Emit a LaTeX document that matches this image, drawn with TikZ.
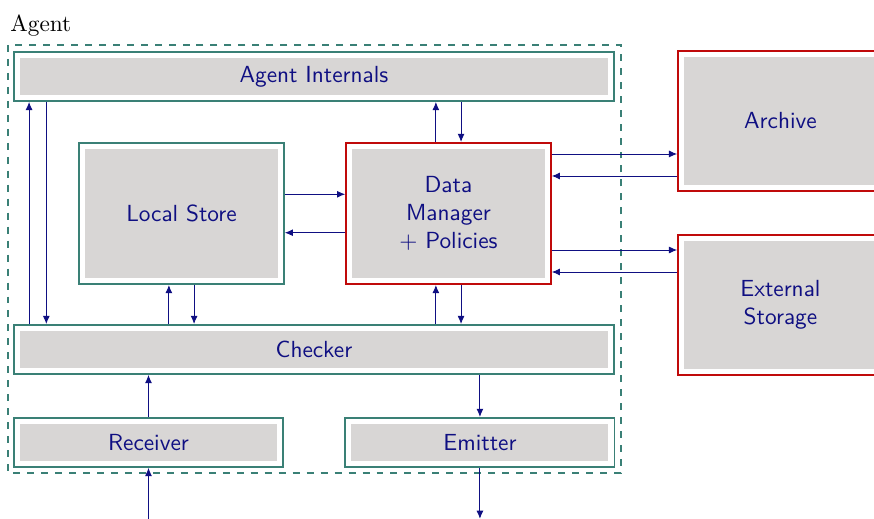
\documentclass[tikz,border=0pt]{standalone}
\usepackage{tikz}
\usetikzlibrary{arrows.meta}
\definecolor{tealink}{RGB}{58,128,118}
\definecolor{redink}{RGB}{192,10,10}
\definecolor{boxgray}{RGB}{216,214,213}
\definecolor{navyink}{RGB}{15,15,130}

\tikzset{
  unit/.style={draw=tealink, line width=0.8pt, fill=white, text=navyink,
    font=\sffamily, align=center, inner sep=0pt,
    path picture={\fill[boxgray]
      ([shift={(2.6pt,2.6pt)}]path picture bounding box.south west) rectangle
      ([shift={(-2.6pt,-2.6pt)}]path picture bounding box.north east);}},
  outside/.style={unit, draw=redink},
  flow/.style={draw=navyink, -{Latex[length=3.5pt,width=3pt]}},
}

\begin{document}
\begin{tikzpicture}
  \useasboundingbox (0,0) rectangle (13.19,-7.83);
  % agent frame
  \draw[dashed, tealink, line width=0.8pt] (0.121,-0.679) rectangle (9.371,-7.138);
  \node[anchor=base west, inner sep=0pt] (agentlbl) at (0.151,-0.468) {Agent};
  % blocks
  \node[unit, minimum width=9.05cm, minimum height=0.74cm] (internals) at (4.738,-1.154) {Agent Internals};
  \node[unit, minimum width=3.09cm, minimum height=2.13cm] (store) at (2.739,-3.222) {Local Store};
  \node[outside, minimum width=3.09cm, minimum height=2.13cm] (manager) at (6.768,-3.222) {Data\\Manager\\$+$ Policies};
  \node[outside, minimum width=3.09cm, minimum height=2.11cm] (archive) at (11.778,-1.826) {Archive};
  \node[outside, minimum width=3.09cm, minimum height=2.11cm] (external) at (11.778,-4.602) {External\\Storage};
  \node[unit, minimum width=9.05cm, minimum height=0.74cm] (checker) at (4.738,-5.274) {Checker};
  \node[unit, minimum width=4.06cm, minimum height=0.74cm] (receiver) at (2.241,-6.677) {Receiver};
  \node[unit, minimum width=4.06cm, minimum height=0.74cm] (emitter) at (7.243,-6.677) {Emitter};
  \coordinate (input) at (2.241,-7.83);
  \coordinate (output) at (7.243,-7.83);
  % connections
  \draw[flow] ([xshift=0.24cm]checker.north west) -- ([xshift=0.24cm]internals.south west);
  \draw[flow] ([xshift=0.50cm]internals.south west) -- ([xshift=0.50cm]checker.north west);
  \draw[flow] ([xshift=-0.19cm]manager.north) -- ([xshift=-0.19cm]manager.north |- internals.south);
  \draw[flow] ([xshift=0.19cm]manager.north |- internals.south) -- ([xshift=0.19cm]manager.north);
  \draw[flow] ([xshift=-0.19cm]store.south |- checker.north) -- ([xshift=-0.19cm]store.south);
  \draw[flow] ([xshift=0.19cm]store.south) -- ([xshift=0.19cm]store.south |- checker.north);
  \draw[flow] ([xshift=-0.19cm]manager.south |- checker.north) -- ([xshift=-0.19cm]manager.south);
  \draw[flow] ([xshift=0.19cm]manager.south) -- ([xshift=0.19cm]manager.south |- checker.north);
  \draw[flow] ([yshift=0.29cm]store.east) -- ([yshift=0.29cm]store.east -| manager.west);
  \draw[flow] ([yshift=-0.29cm]manager.west) -- ([yshift=-0.29cm]manager.west -| store.east);
  \draw[flow] ([yshift=0.898cm]manager.east) -- ([yshift=0.898cm]manager.east -| archive.west);
  \draw[flow] ([yshift=0.566cm]manager.east -| archive.west) -- ([yshift=0.566cm]manager.east);
  \draw[flow] ([yshift=-0.551cm]manager.east) -- ([yshift=-0.551cm]manager.east -| external.west);
  \draw[flow] ([yshift=-0.883cm]manager.east -| external.west) -- ([yshift=-0.883cm]manager.east);
  \draw[flow] (receiver.north) -- (receiver.north |- checker.south);
  \draw[flow] (checker.south -| emitter.north) -- (emitter.north);
  \draw[flow] (input) -- (receiver.south);
  \draw[flow] (emitter.south) -- (output);
\end{tikzpicture}
\end{document}
